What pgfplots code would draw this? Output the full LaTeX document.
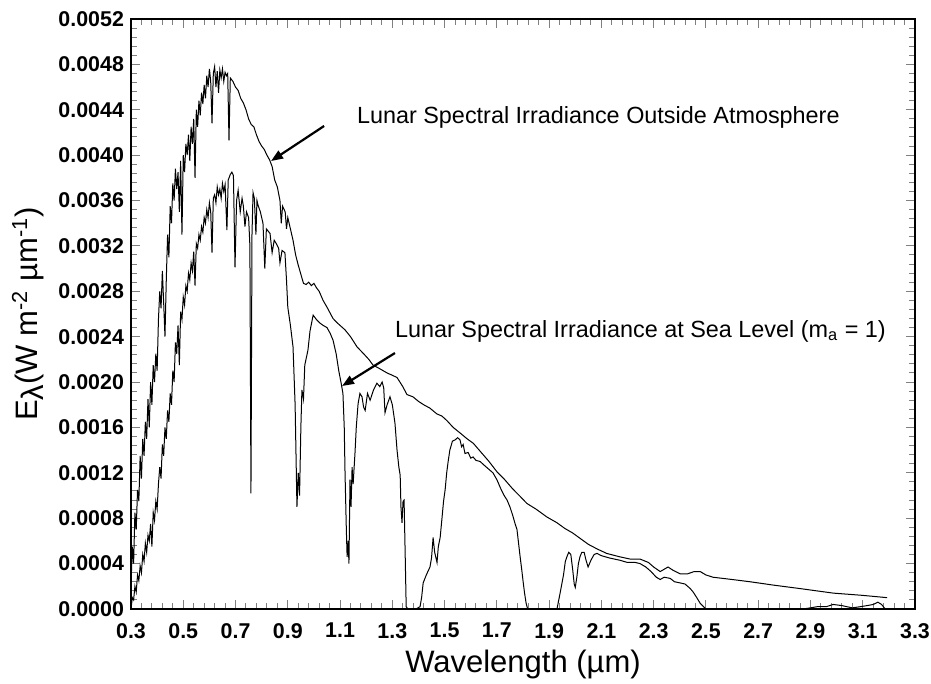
\documentclass[border=0pt]{standalone}
\usepackage{fontspec}
\setmainfont{Liberation Sans}
\usepackage{pgfplots}
\usepackage{pgfplotstable}
\pgfplotsset{compat=1.18}
\usetikzlibrary{arrows.meta}

% outside atmosphere
\pgfplotstableread{
x y
0.300 0.00020
0.305 0.00055
0.310 0.00040
0.315 0.00085
0.320 0.00070
0.325 0.00105
0.330 0.00095
0.335 0.00135
0.340 0.00115
0.345 0.00150
0.350 0.00135
0.355 0.00165
0.360 0.00150
0.365 0.00185
0.370 0.00160
0.375 0.00200
0.380 0.00180
0.385 0.00215
0.390 0.00200
0.395 0.00225
0.400 0.00210
0.405 0.00255
0.410 0.00280
0.415 0.00265
0.420 0.00298
0.425 0.00270
0.430 0.00240
0.435 0.00290
0.440 0.00330
0.445 0.00310
0.450 0.00355
0.455 0.00340
0.460 0.00375
0.465 0.00360
0.470 0.00388
0.475 0.00370
0.480 0.00385
0.485 0.00350
0.490 0.00395
0.495 0.00330
0.500 0.00400
0.505 0.00385
0.510 0.00410
0.515 0.00400
0.520 0.00418
0.525 0.00395
0.530 0.00425
0.535 0.00410
0.540 0.00432
0.545 0.00380
0.550 0.00440
0.555 0.00425
0.560 0.00448
0.565 0.00435
0.570 0.00455
0.575 0.00445
0.580 0.00462
0.585 0.00450
0.590 0.00470
0.595 0.00460
0.600 0.00476
0.605 0.00465
0.610 0.00428
0.615 0.00472
0.620 0.00478
0.625 0.00460
0.630 0.00474
0.635 0.00455
0.640 0.00475
0.645 0.00468
0.650 0.00476
0.655 0.00465
0.660 0.00473
0.665 0.00470
0.670 0.00472
0.675 0.00413
0.680 0.00468
0.690 0.00465
0.700 0.00460
0.710 0.00457
0.720 0.00450
0.730 0.00446
0.740 0.00440
0.750 0.00432
0.760 0.00427
0.770 0.00425
0.780 0.00418
0.790 0.00412
0.800 0.00408
0.810 0.00405
0.820 0.00400
0.830 0.00396
0.840 0.00390
0.850 0.00378
0.860 0.00372
0.870 0.00360
0.875 0.00340
0.880 0.00355
0.890 0.00350
0.895 0.00335
0.900 0.00345
0.910 0.00335
0.920 0.00325
0.930 0.00312
0.940 0.00303
0.950 0.00295
0.960 0.00287
0.970 0.00286
0.980 0.00288
0.990 0.00285
1.000 0.00287
1.010 0.00283
1.020 0.00280
1.035 0.00272
1.050 0.00266
1.073 0.00256
1.090 0.00252
1.119 0.00246
1.140 0.00240
1.165 0.00231
1.190 0.00225
1.210 0.00220
1.226 0.00215
1.250 0.00212
1.280 0.00208
1.300 0.00206
1.318 0.00204
1.340 0.00196
1.356 0.00189
1.379 0.00187
1.400 0.00183
1.420 0.00180
1.444 0.00177
1.470 0.00172
1.490 0.00170
1.509 0.00166
1.533 0.00160
1.560 0.00155
1.586 0.00150
1.610 0.00146
1.640 0.00138
1.670 0.00130
1.700 0.00121
1.730 0.00114
1.760 0.00106
1.790 0.00099
1.815 0.00093
1.850 0.00088
1.892 0.00081
1.930 0.00076
1.960 0.00071
1.990 0.00067
2.020 0.00062
2.050 0.00057
2.083 0.00053
2.120 0.00049
2.170 0.00046
2.210 0.00044
2.248 0.00044
2.280 0.00041
2.300 0.00037
2.325 0.00033
2.340 0.00035
2.355 0.00037
2.375 0.00034
2.401 0.00031
2.430 0.00031
2.455 0.00033
2.478 0.00033
2.500 0.00030
2.527 0.00028
2.600 0.00026
2.669 0.00024
2.760 0.00021
2.860 0.00018
2.987 0.00014
3.100 0.00012
3.193 0.00010
}\outside

% sea level, m_a = 1
\pgfplotstableread{
x y
0.300 0.00000
0.305 0.00010
0.310 0.00008
0.315 0.00020
0.320 0.00015
0.325 0.00030
0.330 0.00025
0.335 0.00038
0.340 0.00032
0.345 0.00048
0.350 0.00042
0.355 0.00058
0.360 0.00050
0.365 0.00065
0.370 0.00060
0.375 0.00075
0.380 0.00055
0.385 0.00085
0.390 0.00078
0.395 0.00095
0.400 0.00088
0.405 0.00110
0.410 0.00125
0.415 0.00115
0.420 0.00145
0.425 0.00135
0.430 0.00160
0.435 0.00150
0.440 0.00175
0.445 0.00165
0.450 0.00190
0.455 0.00180
0.460 0.00210
0.465 0.00200
0.470 0.00235
0.475 0.00225
0.480 0.00250
0.485 0.00215
0.490 0.00262
0.495 0.00255
0.500 0.00275
0.505 0.00268
0.510 0.00285
0.515 0.00280
0.520 0.00296
0.525 0.00290
0.530 0.00305
0.535 0.00298
0.540 0.00315
0.545 0.00285
0.550 0.00322
0.555 0.00318
0.560 0.00330
0.565 0.00325
0.570 0.00337
0.575 0.00332
0.580 0.00345
0.585 0.00340
0.590 0.00352
0.595 0.00345
0.600 0.00358
0.605 0.00350
0.610 0.00314
0.615 0.00362
0.620 0.00365
0.625 0.00358
0.630 0.00372
0.635 0.00365
0.640 0.00370
0.645 0.00362
0.650 0.00375
0.655 0.00368
0.660 0.00374
0.667 0.00334
0.672 0.00378
0.680 0.00383
0.686 0.00385
0.692 0.00382
0.698 0.00301
0.704 0.00360
0.710 0.00369
0.718 0.00350
0.725 0.00362
0.730 0.00355
0.736 0.00337
0.742 0.00350
0.750 0.00345
0.755 0.00320
0.759 0.00102
0.763 0.00330
0.767 0.00367
0.772 0.00362
0.778 0.00330
0.782 0.00360
0.786 0.00356
0.795 0.00350
0.805 0.00340
0.812 0.00300
0.818 0.00335
0.825 0.00333
0.832 0.00331
0.840 0.00314
0.848 0.00325
0.856 0.00322
0.865 0.00318
0.870 0.00305
0.878 0.00316
0.889 0.00314
0.895 0.00290
0.900 0.00266
0.910 0.00250
0.920 0.00231
0.928 0.00180
0.935 0.00090
0.940 0.00120
0.945 0.00100
0.950 0.00160
0.954 0.00193
0.960 0.00185
0.965 0.00215
0.977 0.00228
0.985 0.00245
0.997 0.00259
1.010 0.00255
1.023 0.00252
1.035 0.00250
1.050 0.00248
1.062 0.00243
1.073 0.00237
1.085 0.00225
1.095 0.00210
1.105 0.00198
1.111 0.00190
1.116 0.00160
1.119 0.00120
1.124 0.00070
1.127 0.00046
1.131 0.00060
1.134 0.00040
1.138 0.00114
1.142 0.00090
1.146 0.00125
1.150 0.00110
1.157 0.00137
1.162 0.00160
1.169 0.00181
1.176 0.00190
1.184 0.00187
1.190 0.00178
1.196 0.00175
1.205 0.00190
1.215 0.00184
1.228 0.00193
1.241 0.00199
1.252 0.00196
1.261 0.00200
1.267 0.00195
1.272 0.00173
1.280 0.00180
1.291 0.00187
1.300 0.00180
1.310 0.00164
1.318 0.00140
1.325 0.00125
1.330 0.00118
1.333 0.00090
1.337 0.00076
1.341 0.00095
1.345 0.00096
1.349 0.00050
1.353 0.00002
1.360 0.00000
1.390 0.00000
1.406 0.00002
1.412 0.00010
1.418 0.00023
1.430 0.00030
1.444 0.00037
1.450 0.00045
1.456 0.00063
1.462 0.00050
1.471 0.00041
1.476 0.00055
1.483 0.00063
1.490 0.00080
1.496 0.00095
1.502 0.00105
1.508 0.00120
1.513 0.00129
1.520 0.00140
1.530 0.00148
1.540 0.00149
1.550 0.00151
1.559 0.00149
1.565 0.00143
1.571 0.00145
1.578 0.00137
1.590 0.00138
1.600 0.00133
1.609 0.00134
1.620 0.00131
1.636 0.00130
1.650 0.00127
1.665 0.00124
1.685 0.00120
1.700 0.00114
1.715 0.00106
1.728 0.00100
1.739 0.00096
1.750 0.00090
1.760 0.00083
1.770 0.00075
1.777 0.00070
1.783 0.00058
1.789 0.00046
1.795 0.00035
1.800 0.00025
1.806 0.00014
1.812 0.00005
1.818 0.00000
1.930 0.00000
1.942 0.00014
1.955 0.00030
1.962 0.00042
1.968 0.00046
1.975 0.00050
1.983 0.00048
1.990 0.00035
1.996 0.00022
2.000 0.00019
2.006 0.00028
2.012 0.00040
2.018 0.00046
2.025 0.00050
2.034 0.00050
2.040 0.00044
2.049 0.00037
2.060 0.00043
2.072 0.00048
2.083 0.00049
2.100 0.00047
2.130 0.00045
2.150 0.00044
2.170 0.00043
2.200 0.00041
2.230 0.00041
2.248 0.00040
2.270 0.00037
2.290 0.00033
2.310 0.00028
2.325 0.00026
2.340 0.00028
2.363 0.00027
2.380 0.00024
2.401 0.00023
2.420 0.00022
2.440 0.00018
2.451 0.00015
2.465 0.00010
2.478 0.00005
2.500 0.00000
2.870 0.00000
2.900 0.00001
2.925 0.00002
2.960 0.00002
2.987 0.00004
3.020 0.00003
3.060 0.00001
3.090 0.00002
3.117 0.00003
3.140 0.00004
3.158 0.00006
3.172 0.00004
3.186 0.00000
}\sealevel

\begin{document}
\begin{tikzpicture}
\begin{axis}[
    scale only axis,
    width=392pt, height=295pt,
    xmin=0.3, xmax=3.3,
    ymin=0, ymax=0.0052,
    xtick={0.3,0.5,0.7,0.9,1.1,1.3,1.5,1.7,1.9,2.1,2.3,2.5,2.7,2.9,3.1,3.3},
    ytick={0,0.0004,0.0008,0.0012,0.0016,0.0020,0.0024,0.0028,0.0032,0.0036,0.0040,0.0044,0.0048,0.0052},
    minor x tick num=4,
    minor y tick num=4,
    tick align=inside,
    scaled ticks=false,
    axis line style={line width=0.9pt},
    major tick style={line width=0.5pt},
    minor tick style={line width=0.5pt},
    /pgf/number format/assume math mode=true,
    tick label style={font=\bfseries\fontsize{10.7}{12}\selectfont},
    xticklabel style={yshift=-3.5pt,/pgf/number format/.cd,fixed,fixed zerofill,precision=1},
    yticklabel style={/pgf/number format/.cd,fixed,fixed zerofill,precision=4},
    xlabel={Wavelength (µm)},
    ylabel={E\raisebox{-0.35ex}{λ}(W m\textsuperscript{-2} µm\textsuperscript{-1})},
    label style={font=\fontsize{15.5}{18}\selectfont},
    xlabel style={at={([yshift=-32pt]axis description cs:0.5,0)}, anchor=base},
    ylabel style={at={([xshift=-51.5pt]axis description cs:0,0.5)}, anchor=center},
    clip=false,
]
\addplot[black, line width=0.5pt] table {\outside};
\addplot[black, line width=0.5pt] table {\sealevel};

\node[anchor=base west, font=\fontsize{11.7}{14}\selectfont]
    at (axis cs:1.138,0.004279) {Lunar Spectral Irradiance Outside Atmosphere};
\node[anchor=base west, font=\fontsize{11.7}{14}\selectfont]
    at (axis cs:1.2835,0.002397) {Lunar Spectral Irradiance at Sea Level (m\textsubscript{a} = 1)};
\draw[-{Triangle[length=6pt,width=4.5pt]}, line width=1.1pt]
    (axis cs:1.039,0.004257) -- (axis cs:0.8358,0.003948);
\draw[-{Triangle[length=6pt,width=4.5pt]}, line width=1.1pt]
    (axis cs:1.310,0.002256) -- (axis cs:1.1075,0.001965);
\end{axis}
\pgfresetboundingbox
\path ([shift={(-65.5pt,-37.5pt)}]current axis.south west)
    rectangle ([shift={(8pt,9.5pt)}]current axis.north east);
\end{tikzpicture}
\end{document}
